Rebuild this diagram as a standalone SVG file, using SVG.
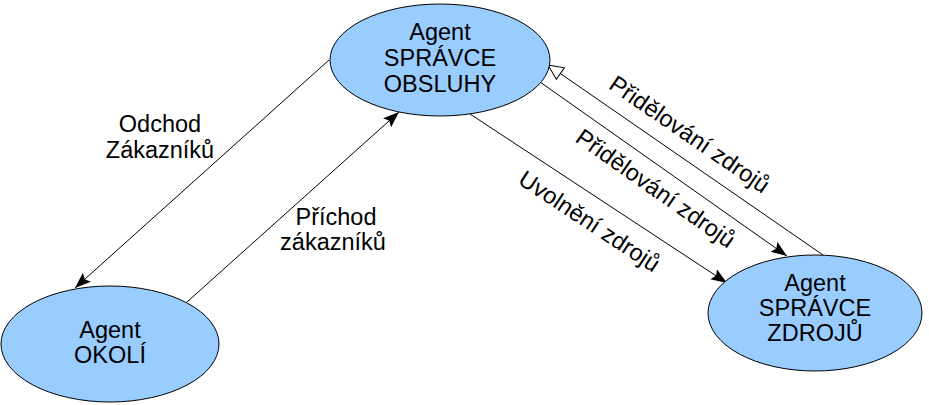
<svg xmlns="http://www.w3.org/2000/svg" width="929" height="405" viewBox="0 0 929 405">
<style>
.node ellipse{fill:#99ccff;stroke:#000;stroke-width:1}
text{font-family:"Liberation Sans",Arial,sans-serif;font-size:23.5px;fill:#000}
.c{text-anchor:middle}
.edge{stroke:#000;stroke-width:1;fill:none}
</style>
<defs>
<marker id="af" markerUnits="userSpaceOnUse" markerWidth="18" markerHeight="14" refX="16" refY="6" orient="auto">
<path d="M0,0 L16,6 L0,12 L3,6 z" fill="#000"/>
</marker>
<marker id="ah" markerUnits="userSpaceOnUse" markerWidth="20" markerHeight="18" refX="16" refY="8" orient="auto">
<path d="M1,1 L16,8 L1,15 z" fill="#fff" stroke="#000" stroke-width="1"/>
</marker>
</defs>
<rect width="929" height="405" fill="#fff"/>
<g id="connectors">
<line class="edge" x1="329" y1="60" x2="75" y2="288" marker-end="url(#af)"/>
<line class="edge" x1="187" y1="302" x2="399" y2="112" marker-end="url(#af)"/>
<line class="edge" x1="823" y1="255" x2="548" y2="65" marker-end="url(#ah)"/>
<line class="edge" x1="540" y1="82" x2="787" y2="256" marker-end="url(#af)"/>
<line class="edge" x1="470" y1="114" x2="727" y2="283" marker-end="url(#af)"/>
<text class="c" x="160" y="132">Odchod</text>
<text class="c" x="160" y="158">Zákazníků</text>
<text class="c" x="336" y="225">Příchod</text>
<text class="c" x="333" y="250">zákazníků</text>
<text class="c" transform="translate(685,141) rotate(34.4)">Přidělování zdrojů</text>
<text class="c" transform="translate(651,195) rotate(35)">Přidělování zdrojů</text>
<text class="c" transform="translate(585,228) rotate(33.4)">Uvolnění zdrojů</text>
</g>
<g id="obsluha" class="node">
<ellipse cx="440" cy="60" rx="110" ry="56"/>
<text class="c" x="440" y="40">Agent</text>
<text class="c" x="440" y="66">SPRÁVCE</text>
<text class="c" x="440" y="92">OBSLUHY</text>
</g>
<g id="okoli" class="node">
<ellipse cx="110" cy="344" rx="109" ry="58"/>
<text class="c" x="110" y="338">Agent</text>
<text class="c" x="110" y="363">OKOLÍ</text>
</g>
<g id="zdroje" class="node">
<ellipse cx="815" cy="313" rx="107" ry="58"/>
<text class="c" x="815" y="291">Agent</text>
<text class="c" x="815" y="316">SPRÁVCE</text>
<text class="c" x="815" y="341">ZDROJŮ</text>
</g>
</svg>
